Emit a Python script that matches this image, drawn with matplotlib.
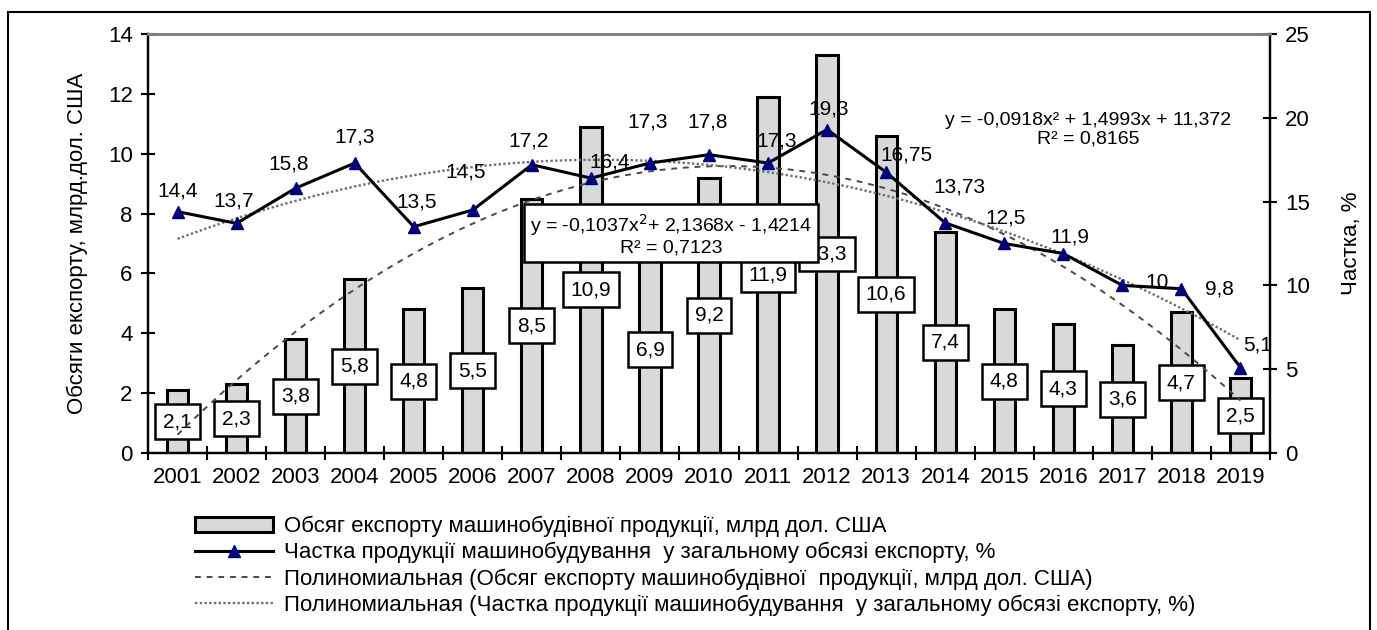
import numpy as np
import matplotlib.pyplot as plt
from matplotlib import font_manager
from matplotlib.patches import Rectangle

# pick a narrow font if one is installed
names = {f.name for f in font_manager.fontManager.ttflist}
font = 'Liberation Sans Narrow' if 'Liberation Sans Narrow' in names else 'Liberation Sans'
plt.rcParams['font.family'] = [font, 'DejaVu Sans']

years = [str(y) for y in range(2001, 2020)]
export_bln = [2.1, 2.3, 3.8, 5.8, 4.8, 5.5, 8.5, 10.9, 6.9, 9.2,
              11.9, 13.3, 10.6, 7.4, 4.8, 4.3, 3.6, 4.7, 2.5]
share_pct = [14.4, 13.7, 15.8, 17.3, 13.5, 14.5, 17.2, 16.4, 17.3, 17.8,
             17.3, 19.3, 16.75, 13.73, 12.5, 11.9, 10, 9.8, 5.1]
share_lbl = ['14,4', '13,7', '15,8', '17,3', '13,5', '14,5', '17,2', '16,4', '17,3', '17,8',
             '17,3', '19,3', '16,75', '13,73', '12,5', '11,9', '10', '9,8', '5,1']
# label offsets for the share line, in pixels (dx, dy)
share_off = [(0, 21), (-3, 22), (-7, 24), (0, 26), (3, 25), (-7, 38), (-3, 24), (19, 16),
             (-2, 41), (-1, 33), (9, 22), (2, 21), (20, 17), (14, 36), (1, 26), (7, 17),
             (35, 3), (38, 0), (17, 23)]

lab_bar = 'Обсяг експорту машинобудівної продукції, млрд дол. США'
lab_line = 'Частка продукції машинобудування  у загальному обсязі експорту, %'
lab_tr1 = 'Полиномиальная (Обсяг експорту машинобудівної  продукції, млрд дол. США)'
lab_tr2 = 'Полиномиальная (Частка продукції машинобудування  у загальному обсязі експорту, %)'

x = np.arange(1, len(years) + 1)

fig = plt.figure(figsize=(13.77, 6.30), dpi=100)
ax = fig.add_axes([148 / 1377, 1 - 453 / 630, 1122 / 1377, 419 / 630])
ax2 = ax.twinx()

bars = ax.bar(x, export_bln, width=0.36, color='#d9d9d9', edgecolor='black',
              linewidth=2.2, zorder=2, label=lab_bar)
for xi, v in zip(x, export_bln):
    ax.text(xi, v / 2, f'{v:.1f}'.replace('.', ','), ha='center', va='center',
            fontsize=15, zorder=3,
            bbox=dict(boxstyle='square,pad=0.38', fc='white', ec='black', lw=1.8))

# polynomial trends (2nd order)
xs = np.linspace(1, 19, 200)
c1 = np.polyfit(x, export_bln, 2)
tr1, = ax.plot(xs, np.polyval(c1, xs), ls=(0, (3, 3)), color='#4a4a4a', lw=1.4,
               zorder=4, label=lab_tr1)
c2 = np.polyfit(x, share_pct, 2)
tr2, = ax2.plot(xs, np.polyval(c2, xs), ls=(0, (1, 1)), color='#6f6f6f', lw=1.7,
                zorder=1, label=lab_tr2)

ln, = ax2.plot(x, share_pct, color='black', lw=2.2, marker='^', ms=9,
               mfc='#000080', mec='#000080', zorder=3, label=lab_line)
for xi, v, t, (dx, dy) in zip(x, share_pct, share_lbl, share_off):
    ax2.annotate(t, (xi, v), xytext=(dx, dy), textcoords='offset pixels',
                 ha='center', va='center', fontsize=15, zorder=4)

ax.text(9.36, 7.32, 'y = -0,1037x$^2$+ 2,1368x - 1,4214\nR² = 0,7123', ha='center',
        va='center', fontsize=14, linespacing=1.1, zorder=5,
        bbox=dict(boxstyle='square,pad=0.3', fc='white', ec='black', lw=1.8))
ax2.text(16.42, 19.27, 'y = -0,0918x² + 1,4993x + 11,372\nR² = 0,8165', ha='center',
         va='center', fontsize=14, linespacing=1.1)

ax.set_xlim(0.5, 19.5)
ax.set_ylim(0, 14)
ax2.set_ylim(0, 25)
ax.set_yticks(range(0, 15, 2))
ax2.set_yticks(range(0, 26, 5))
ax.set_xticks(x)
ax.set_xticklabels(years)
ax.set_xticks(np.arange(0.5, 20, 1), minor=True)
ax.tick_params(axis='x', which='major', length=0, labelsize=16, pad=10)
ax.tick_params(axis='x', which='minor', length=10, width=1.5, direction='inout')
ax.tick_params(axis='y', length=10, width=1.5, direction='inout', labelsize=16, pad=6)
ax2.tick_params(axis='y', length=10, width=1.5, direction='inout', labelsize=16, pad=6)

for a in (ax, ax2):
    a.spines['top'].set_color('#808080')
    a.spines['top'].set_linewidth(2)
    for s in ('left', 'right', 'bottom'):
        a.spines[s].set_linewidth(1.6)

ax.set_ylabel('Обсяги експорту, млрд.дол. США', fontsize=16, labelpad=14)
ax2.set_ylabel('Частка, %', fontsize=16, labelpad=22)

fig.legend([bars, ln, tr1, tr2], [lab_bar, lab_line, lab_tr1, lab_tr2],
           loc='upper left', bbox_to_anchor=(195 / 1377, 1 - 516 / 630),
           frameon=False, fontsize=16, handlelength=3.5, handletextpad=0.5,
           labelspacing=0.22, borderpad=0, borderaxespad=0)

fig.patches.append(Rectangle((8 / 1377, -0.05), 1362 / 1377, 0.05 + 618 / 630,
                             transform=fig.transFigure, fill=False, ec='black', lw=1.5))

fig.savefig('out.png', dpi=100)
